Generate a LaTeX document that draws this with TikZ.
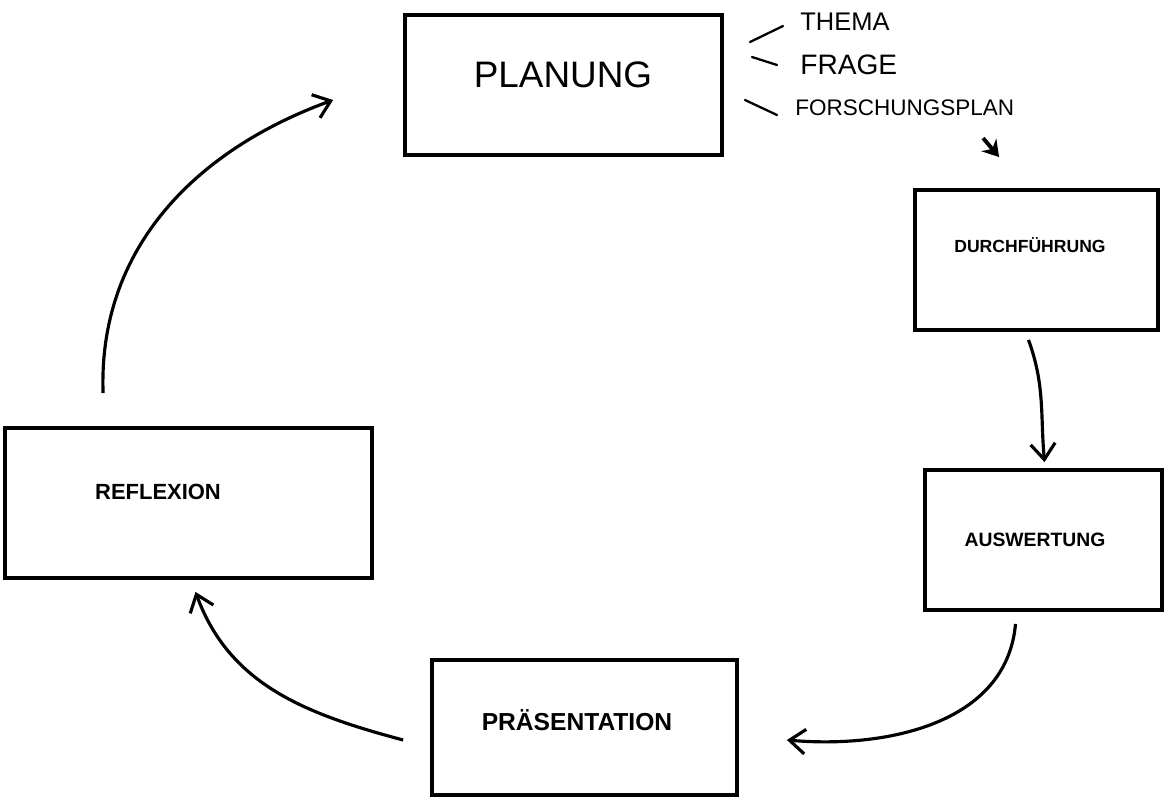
\documentclass[tikz,border=0pt]{standalone}
\usepackage{fontspec}
\setmainfont{Liberation Sans}
\usetikzlibrary{arrows.meta,calc}
\newcommand{\fs}[1]{\fontsize{#1}{#1}\selectfont}
\tikzset{
  stagebox/.style={draw, line width=2.2pt, rectangle, inner sep=0pt},
  stagetext/.style={inner sep=0pt, anchor=center, font=\bfseries},
  flow/.style={line width=1.8pt, -{Straight Barb[length=9pt,width=14pt,line width=1.8pt]}},
  tick/.style={line width=1.3pt, line cap=round},
  note/.style={inner sep=0pt, anchor=west}
}
\begin{document}
\begin{tikzpicture}[x=0.02cm,y=-0.02cm]
\useasboundingbox (0,0) rectangle (1167,799);
% boxes
\node[stagebox, minimum width=6.34cm, minimum height=2.8cm] (plan) at (563.5,85) {};
\node[stagebox, minimum width=4.86cm, minimum height=2.8cm] (durch) at (1036.5,260) {};
\node[stagebox, minimum width=4.74cm, minimum height=2.8cm] (ausw) at (1043.5,540) {};
\node[stagebox, minimum width=6.1cm, minimum height=2.7cm] (pres) at (584.5,727.5) {};
\node[stagebox, minimum width=7.34cm, minimum height=3.0cm] (refl) at (188.5,503) {};
% texts
\node[stagetext, font=\mdseries] (tplan) at (563,75) {\fs{21pt}PLANUNG};
\node[stagetext] (tdurch) at (1030,245) {\fs{10pt}DURCHFÜHRUNG};
\node[stagetext] (tausw) at (1035,540) {\fs{11pt}AUSWERTUNG};
\node[stagetext] (tpres) at (577,720) {\fs{14pt}PRÄSENTATION};
\node[stagetext] (trefl) at (158,492) {\fs{12.5pt}REFLEXION};
% notes
\node[note] (thema) at (800,22) {\fs{14.5pt}THEMA};
\node[note] (frage) at (800,65) {\fs{16pt}FRAGE};
\node[note] (forsch) at (795,108) {\fs{12.8pt}FORSCHUNGSPLAN};
\draw[tick] ([xshift=-1.0cm,yshift=-0.4cm]thema.west) -- ([xshift=-0.34cm,yshift=-0.08cm]thema.west);
\draw[tick] ([xshift=-0.96cm,yshift=0.16cm]frage.west) -- ([xshift=-0.46cm,yshift=0cm]frage.west);
\draw[tick] ([xshift=-1.0cm,yshift=0.16cm]forsch.west) -- ([xshift=-0.36cm,yshift=-0.14cm]forsch.west);
% small arrow
\coordinate (sa) at ([xshift=1.4cm,yshift=1.0cm]durch.north west);
\draw[line width=2.2pt, -{Stealth[length=9pt,width=11pt]}] (sa) -- ([xshift=1.72cm,yshift=0.62cm]durch.north west);
% cycle arrows
\draw[flow] ([xshift=2cm,yshift=0.66cm]refl.north west) to[out=92,in=200] ([xshift=-1.4cm,yshift=-0.3cm]plan.west);
\draw[flow] ([xshift=-0.16cm,yshift=-0.16cm]durch.south) to[out=-70,in=95] ([xshift=0.02cm,yshift=0.12cm]ausw.north);
\draw[flow] ([xshift=-0.56cm,yshift=-0.24cm]ausw.south) to[out=-95,in=-5] ([xshift=0.96cm,yshift=-0.25cm]pres.east);
\draw[flow] ([xshift=-0.54cm,yshift=-0.25cm]pres.west) to[out=165,in=-70] ([xshift=0.14cm,yshift=-0.24cm]refl.south);
\end{tikzpicture}
\end{document}
